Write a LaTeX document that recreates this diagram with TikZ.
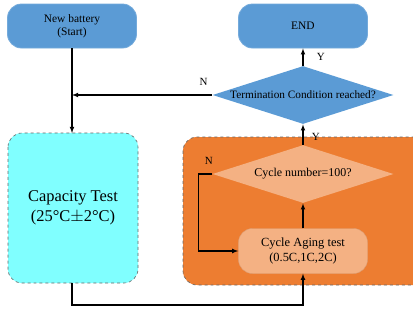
\documentclass[tikz,border=0pt]{standalone}
\usepackage{fontspec}
\setmainfont{Liberation Serif}
\usetikzlibrary{shapes.geometric}

\definecolor{bblue}{HTML}{5B9BD5}
\definecolor{dorange}{HTML}{ED7D31}
\definecolor{lorange}{HTML}{F4B183}
\definecolor{lcyan}{HTML}{80FFFF}

\begin{document}
\begin{tikzpicture}[x=1bp, y=-1bp, thick,
  term/.style={rectangle, rounded corners=14bp, fill=bblue, draw=bblue!85!white,
    minimum width=129bp, minimum height=44bp, align=center, font=\fontsize{11.5}{13.5}\selectfont},
  decide/.style={diamond, aspect=3.15, inner sep=0pt, minimum width=181bp, minimum height=58bp,
    font=\fontsize{11.3}{13}\selectfont},
  lbl/.style={font=\fontsize{11}{13}\selectfont},
  arr/.style={-latex, line width=1.1pt}]
  \useasboundingbox (0,0) rectangle (413,320);

  % background boxes
  \draw[fill=lcyan, draw=gray!80!black, dashed, rounded corners=14bp, line width=0.6pt]
    (8,133) rectangle (138,283);
  \draw[fill=dorange, draw=gray!80!black, dashed, rounded corners=14bp, line width=0.6pt]
    (183,137) rectangle (430,285);

  \node[term] (a) at (72,26) {New battery\\(Start)};
  \node[term] (b) at (303,26) {END};
  \node[decide, fill=bblue] (c) at (303,95) {Termination Condition reached?};
  \node[align=center, font=\fontsize{16.5}{19.5}\selectfont] (d) at (73,208)
    {Capacity Test\\(25\textdegree C$\pm$2\textdegree C)};
  \coordinate (dt) at (72,133);
  \coordinate (db) at (72,283);
  \node[decide, fill=lorange, font=\fontsize{12}{14}\selectfont] (f) at (303,174) {Cycle number=100?};
  \node[term, fill=lorange, draw=lorange!90!black, line width=0.4pt, minimum height=45bp,
    font=\fontsize{12.5}{14.5}\selectfont] (g) at (303,251) {Cycle Aging test\\(0.5C,1C,2C)};

  \draw[arr] (c.north) -- (b.south) node[lbl, pos=0.5, right=10bp] {Y};
  \draw[arr] (a.south) -- (dt);
  \draw[arr] (c.west) -- (c.west -| a) node[lbl, pos=0.06, above=6bp] {N};
  \draw[arr] (f.north) -- (c.south) node[lbl, pos=0.4, right=5bp] {Y};
  \draw[arr] (g.north) -- (f.south);
  \draw[arr] (f.west) -- ++(-14,0) node[lbl, anchor=south west, xshift=3bp, yshift=6bp] {N} |- (g.west);
  \draw[arr] (db) -- ++(0,22) -| (g.south);

\end{tikzpicture}
\end{document}
